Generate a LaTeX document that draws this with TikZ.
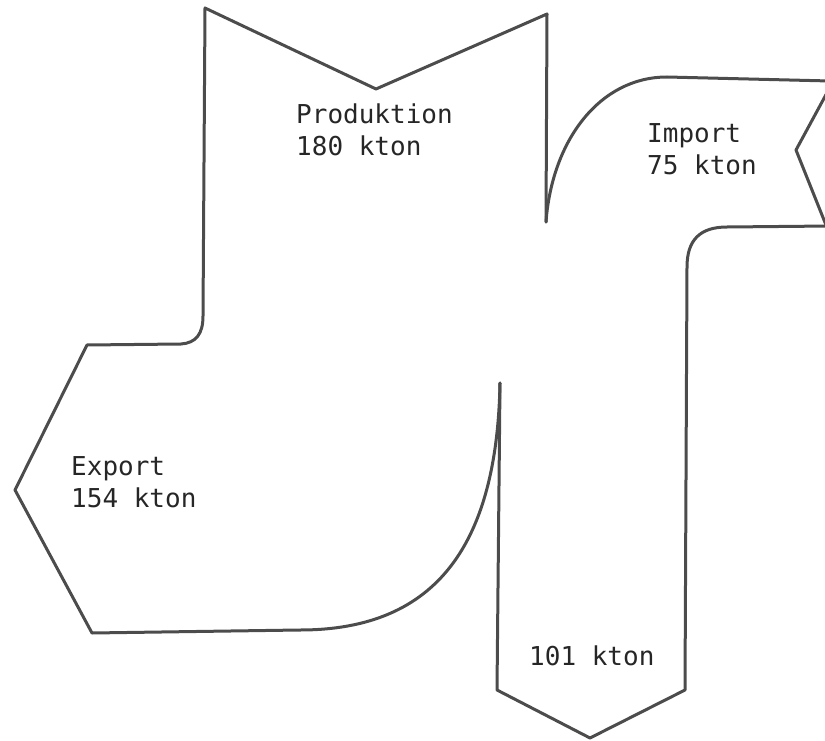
\documentclass[tikz,border=0pt]{standalone}
\usepackage{fontspec}
\newfontfamily\flowfont{DejaVu Sans Mono}
\begin{document}
\begin{tikzpicture}[x=1pt,y=-1pt,
  outline/.style={draw=black!70, line width=3pt, line join=round, line cap=round},
  flowlabel/.style={font=\flowfont\fontsize{26}{32}\selectfont, text=black!85,
                    inner sep=0pt, anchor=base west, align=left}]
\useasboundingbox (0,0) rectangle (825,741);
\begin{scope}
\clip (0,0) rectangle (825,741);

% production stream: notched top, left edge, export arrow, curve into the delivery column
\draw[outline] (546,222) -- (547,14) -- (376,89) -- (205,8) -- (203,316)
  .. controls (203,334) and (196,343) .. (181,344)
  -- (87,345) -- (15,490) -- (92,633) -- (300,630)
  .. controls (440,630) and (497,540) .. (500,383);

% import stream: curved entry, notched tail cut by the edge
\draw[outline] (546,222) .. controls (552,140) and (600,77) .. (667,77) -- (830,81);
\draw[outline] (835,78) -- (796,150) -- (830,235);

% delivery column with arrow head, joined to the import stream
\draw[outline] (500,383) -- (497,690) -- (590,738) -- (685,690) -- (687,267)
  .. controls (687,240) and (700,227) .. (727,227) -- (830,226);
\end{scope}

% labels: anchored at the baseline of their last line
\node[flowlabel] (prod) at (296,156) {Produktion\\180 kton};
\node[flowlabel] (imp)  at (647,175) {Import\\75 kton};
\node[flowlabel] (exp)  at (71,507)  {Export\\154 kton};
\node[flowlabel] (out)  at (529,665) {101 kton};
\end{tikzpicture}
\end{document}
